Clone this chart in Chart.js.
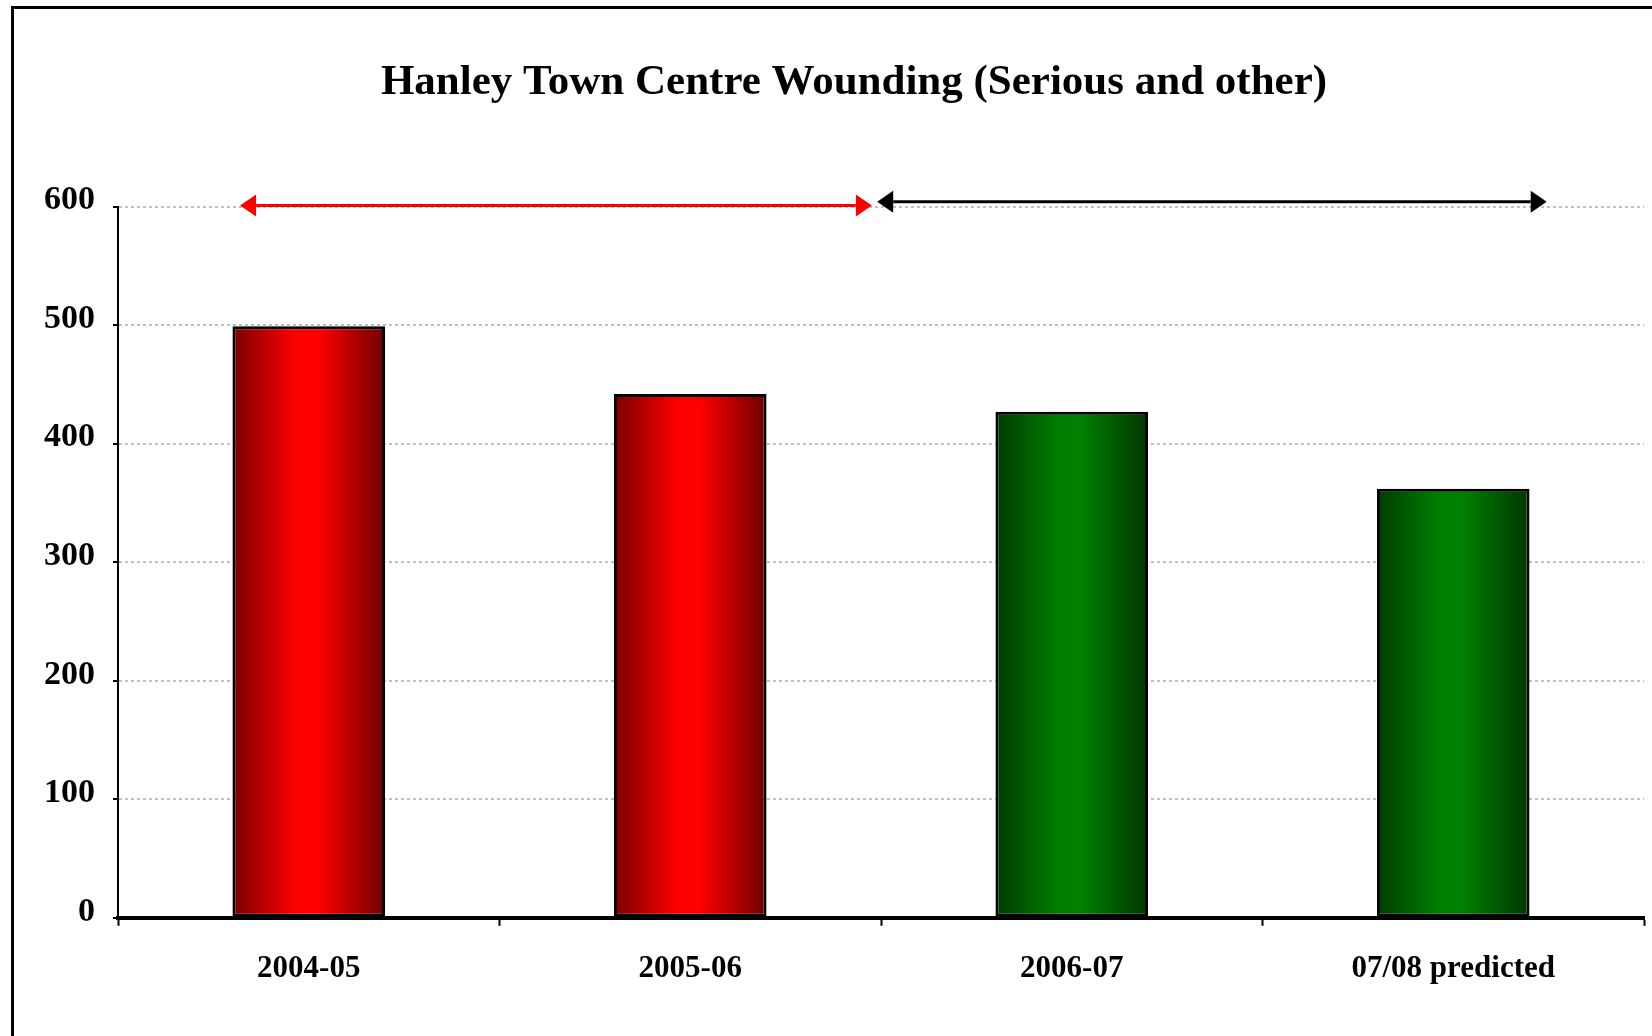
<!DOCTYPE html>
<html>
<head>
<meta charset="utf-8">
<script src="https://cdn.jsdelivr.net/npm/chart.js@4/dist/chart.umd.min.js"></script>
<style>
	html, body { margin: 0; padding: 0; background: #fff; overflow: hidden; }
	#wrap { position: relative; width: 1652px; height: 1036px; }
	#frame { position: absolute; left: 11px; top: 6px; width: 2000px; height: 2000px;
		border-top: 3px solid #000; border-left: 3px solid #000; pointer-events: none; }
</style>
</head>
<body>
<div id="wrap">
	<div id="frame"></div>
	<canvas id="woundChart"></canvas>
</div>
<script>
	// datos
	const years = ['2004-05', '2005-06', '2006-07', '07/08 predicted'];
	const woundings = [499, 442, 427, 362];
	const yTicks = [0, 100, 200, 300, 400, 500, 600];

	// flechas de periodo (en unidades de categoria y valor)
	const periodStart = [-0.18, 1.49];
	const periodEnd = [1.476, 3.245];
	const periodLevel = [601, 604];

	const serif = "'Liberation Serif', 'Times New Roman', serif";
	const barTone = ['red', 'red', 'green', 'green'];
	const shades = {
		red: ['#780000', '#ff0000', '#6e0000'],
		green: ['#003c00', '#008000', '#003600']
	};
	const arrowColor = ['#ff0000', '#000000'];

	function barFill(c){
		const chart = c.chart;
		const s = shades[barTone[c.dataIndex]];
		if(!chart.chartArea) return s[1];
		const x = chart.scales.x;
		const cx = x.getPixelForValue(c.dataIndex);
		const half = x.width / years.length * 0.4 / 2;
		const g = chart.ctx.createLinearGradient(cx - half, 0, cx + half, 0);
		g.addColorStop(0, s[0]);
		g.addColorStop(0.42, s[1]);
		g.addColorStop(0.56, s[1]);
		g.addColorStop(1, s[2]);
		return g;
	}

	// la escala y es estrecha (padding izq. para centrar el titulo), asi que no recortar sus etiquetas
	const wideLabels = {
		id: 'wideLabels',
		afterLayout(chart){
			chart.scales.y.left = 0;
		}
	};

	const periodArrows = {
		id: 'periodArrows',
		afterDatasetsDraw(chart){
			const {ctx, scales: {x, y}} = chart;
			periodStart.forEach(function(s, i){
				const x1 = x.getPixelForValue(s);
				const x2 = x.getPixelForValue(periodEnd[i]);
				const yy = y.getPixelForValue(periodLevel[i]);
				const len = 16, h = 11;
				ctx.save();
				ctx.strokeStyle = arrowColor[i];
				ctx.fillStyle = arrowColor[i];
				ctx.lineWidth = 3;
				ctx.beginPath();
				ctx.moveTo(x1 + len, yy);
				ctx.lineTo(x2 - len, yy);
				ctx.stroke();
				ctx.beginPath();
				ctx.moveTo(x1, yy);
				ctx.lineTo(x1 + len, yy - h);
				ctx.lineTo(x1 + len, yy + h);
				ctx.closePath();
				ctx.fill();
				ctx.beginPath();
				ctx.moveTo(x2, yy);
				ctx.lineTo(x2 - len, yy - h);
				ctx.lineTo(x2 - len, yy + h);
				ctx.closePath();
				ctx.fill();
				ctx.restore();
			});
		}
	};

	new Chart('woundChart', {
		type: 'bar',
		data: {
			labels: years,
			datasets: [{
				label: 'Wounding',
				data: woundings,
				backgroundColor: barFill,
				borderColor: '#000',
				borderWidth: 3,
				borderSkipped: false,
				barPercentage: 0.4,
				categoryPercentage: 1.0
			}]
		},
		options: {
			responsive: true,
			maintainAspectRatio: false,
			animation: false,
			layout: { padding: { top: 7, left: 64, right: 8, bottom: 23 } },
			plugins: {
				legend: { display: false },
				tooltip: { enabled: false },
				title: {
					display: true,
					text: 'Hanley Town Centre Wounding (Serious and other)',
					color: '#000',
					font: { family: serif, size: 43, weight: 'bold' },
					padding: { top: 50, bottom: 98 }
				}
			},
			scales: {
				x: {
					grid: {
						drawOnChartArea: false,
						tickLength: 8,
						tickColor: '#000',
						tickWidth: 2
					},
					border: { color: '#000', width: 4 },
					ticks: {
						color: '#000',
						padding: 25,
						font: { family: serif, size: 31, weight: 'bold' }
					}
				},
				y: {
					min: 0,
					max: 600,
					afterFit(scale){ scale.width = 54; },
					afterBuildTicks(scale){ scale.ticks = yTicks.map(v => ({value: v})); },
					grid: {
						color: '#c0c0c0',
						lineWidth: 2,
						tickLength: 5,
						tickColor: '#000',
						tickWidth: 2
					},
					border: { color: '#000', width: 2, dash: [3, 3] },
					ticks: {
						color: '#000',
						padding: 18,
						labelOffset: -6,
						font: { family: serif, size: 34, weight: 'bold' }
					}
				}
			}
		},
		plugins: [wideLabels, periodArrows]
	});
</script>
</body>
</html>
